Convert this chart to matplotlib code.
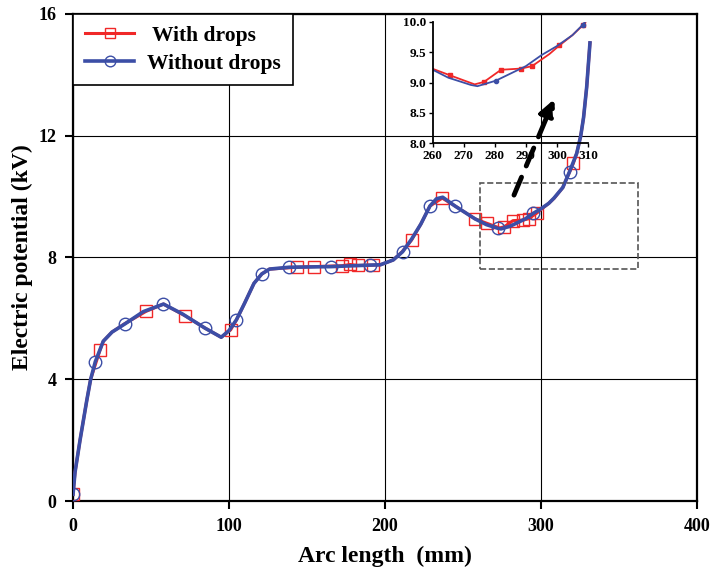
import matplotlib
matplotlib.use("Agg")
import matplotlib.pyplot as plt
from matplotlib.patches import Rectangle

########## Data ##########
# without drops (blue)
x_dry = [0, 1.3, 4.5, 8.8, 11.3, 14.3, 19.4, 25, 33.3, 45, 58, 70, 84.6, 95, 100,
         104.7, 110, 116, 121, 126, 138.5, 165.4, 190.4, 197, 205.3, 211.3, 217, 223,
         228.8, 233, 237, 244.9, 257.7, 265, 272.3, 274.4, 280.3, 290, 295, 300, 305,
         308.3, 314, 318.3, 322.9, 325.5, 327.3, 329.3, 331.4]
y_dry = [0.22, 0.95, 2.0, 3.3, 4.0, 4.58, 5.25, 5.55, 5.82, 6.22, 6.47, 6.15, 5.68, 5.38, 5.6,
         5.95, 6.5, 7.15, 7.46, 7.62, 7.68, 7.7, 7.75, 7.76, 7.92, 8.19, 8.6, 9.1,
         9.69, 9.93, 9.98, 9.69, 9.27, 9.08, 8.96, 8.94, 9.03, 9.27, 9.45, 9.6, 9.78,
         9.95, 10.3, 10.82, 11.42, 12.0, 12.6, 13.6, 15.05]
mark_dry = [0, 5, 8, 10, 12, 15, 18, 20, 21, 22, 25, 28, 31, 34, 38, 43]
inset_mark_dry = [36, 41]

# with drops (red)
x_wet = [0, 1.3, 4.5, 8.8, 11.3, 17.3, 19.4, 25, 33, 46.8, 58, 72, 84.6, 95, 101,
         105, 110, 116, 121, 126, 143.6, 154.5, 172.4, 177.6, 182.7, 192.3, 197, 205.3,
         211, 217, 223, 228.8, 236.7, 245, 257.7, 265.5, 273.5, 276.5, 282, 288.5, 292,
         297.6, 300.8, 305, 308.5, 314, 320.7, 322.9, 325.5, 327.3, 329.3, 331.4]
y_wet = [0.22, 0.95, 2.0, 3.3, 4.0, 4.96, 5.25, 5.55, 5.82, 6.23, 6.47, 6.08, 5.68, 5.38, 5.62,
         5.97, 6.5, 7.15, 7.46, 7.62, 7.68, 7.7, 7.73, 7.77, 7.74, 7.75, 7.76, 7.92,
         8.19, 8.57, 9.1, 9.69, 9.95, 9.69, 9.27, 9.12, 8.97, 9.01, 9.21, 9.23, 9.27,
         9.47, 9.61, 9.78, 9.95, 10.3, 11.09, 11.42, 12.0, 12.6, 13.6, 15.05]
mark_wet = [0, 5, 9, 11, 14, 20, 21, 22, 23, 24, 25, 29, 32, 34, 35, 37, 38, 39, 40, 41, 46]
inset_mark_wet = [35, 37, 38, 39, 40, 42, 44]

x_ticks = [0, 100, 200, 300, 400]
y_ticks = [0, 4, 8, 12, 16]
inset_x_ticks = [260, 270, 280, 290, 300, 310]
inset_y_ticks = [8.0, 8.5, 9.0, 9.5, 10.0]
##########################

red = '#f02828'
blue = '#3c4ea6'

plt.rcParams['font.family'] = ['Liberation Serif', 'DejaVu Serif']
plt.rcParams['font.weight'] = 'bold'

fig = plt.figure(figsize=(7.23, 5.78), dpi=100)
ax = fig.add_axes([0.101, 0.1332, 0.863, 0.8426])

ax.plot(x_wet, y_wet, '-', color=red, lw=2.2, marker='s', markevery=mark_wet,
        ms=8, mfc='none', mec=red, mew=1.0, label=' With drops', zorder=3)
ax.plot(x_dry, y_dry, '-', color=blue, lw=2.6, marker='o', markevery=mark_dry,
        ms=9, mfc='none', mec=blue, mew=1.0, label='Without drops', zorder=4)

ax.set_xlim(0, 400)
ax.set_ylim(0, 16)
ax.set_xticks(x_ticks)
ax.set_yticks(y_ticks)
ax.grid(True, color='black', lw=0.8)
ax.set_axisbelow(True)
for s in ax.spines.values():
    s.set_linewidth(1.6)
ax.tick_params(direction='out', length=6, width=1.5, labelsize=13, pad=6)
for lab in ax.get_xticklabels() + ax.get_yticklabels():
    lab.set_fontweight('bold')

ax.set_xlabel('Arc length  (mm)', fontsize=17, fontweight='bold', labelpad=8)
ax.set_ylabel('Electric potential (kV)', fontsize=17, fontweight='bold', labelpad=4)

leg = ax.legend(loc='upper left', borderaxespad=0, fancybox=False, framealpha=1,
                edgecolor='black', prop={'size': 15.5, 'weight': 'bold'},
                handlelength=2.3, handletextpad=0.6, borderpad=0.55, labelspacing=0.35,
                markerscale=0.85)
leg.get_frame().set_linewidth(1.2)

# zoom box and arrow
ax.add_patch(Rectangle((260.9, 7.61), 101, 2.85, fill=False, ls='--',
                       ec='#555555', lw=1.2, zorder=5))
ax.annotate('', xy=(308.5, 13.2), xytext=(282.7, 10.05),
            arrowprops=dict(arrowstyle='-|>', lw=3.5, ls=(0, (4, 2.5)), color='black',
                            mutation_scale=24, shrinkA=0, shrinkB=0), zorder=6)

# inset
axi = fig.add_axes([0.5985, 0.752, 0.2148, 0.2104])
axi.patch.set_alpha(0)
axi.plot(x_wet, y_wet, '-', color=red, lw=1.3, marker='s', markevery=inset_mark_wet, ms=3)
axi.plot(x_dry, y_dry, '-', color=blue, lw=1.3, marker='o', markevery=inset_mark_dry, ms=3)
axi.set_xlim(260, 310)
axi.set_ylim(8.0, 10.0)
axi.set_xticks(inset_x_ticks)
axi.set_yticks(inset_y_ticks)
axi.set_yticklabels([f'{v:.1f}' for v in inset_y_ticks])
axi.spines['top'].set_visible(False)
axi.spines['right'].set_visible(False)
axi.spines['left'].set_linewidth(1.3)
axi.spines['bottom'].set_linewidth(1.3)
axi.tick_params(direction='out', length=3, width=1, labelsize=9.5, pad=2)
for lab in axi.get_xticklabels() + axi.get_yticklabels():
    lab.set_fontweight('bold')

fig.savefig('out.png', dpi=100)
